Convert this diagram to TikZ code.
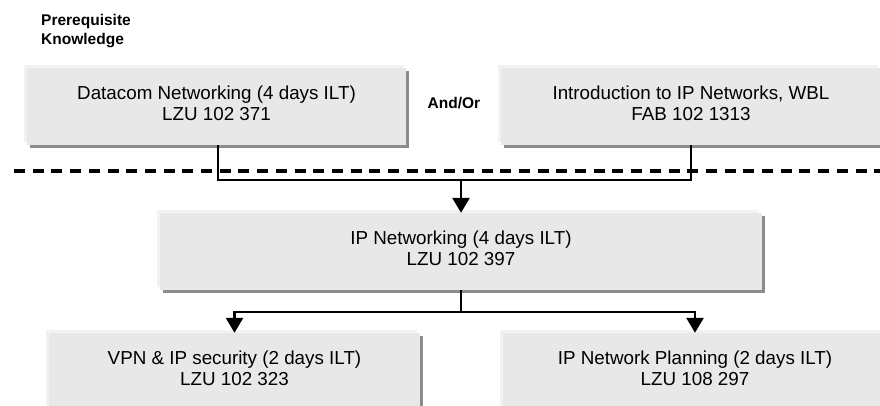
\documentclass[tikz,border=0pt]{standalone}
\usepackage{fontspec}
\setmainfont{Liberation Sans}
\usetikzlibrary{arrows.meta,shadows}
\definecolor{boxfill}{HTML}{E8E8E8}
\definecolor{boxshade}{HTML}{8C8C8C}
\definecolor{boxlight}{HTML}{F2F2F2}
\begin{document}
\begin{tikzpicture}[x=1pt,y=-1pt,
  course/.style={rectangle, fill=boxfill, inner sep=0pt, minimum height=77pt,
    align=center, text depth=6.4pt, font=\fontsize{18.8}{20.5}\selectfont,
    general shadow={shadow xshift=-3pt, shadow yshift=3pt, fill=boxlight, opacity=1},
    general shadow={shadow xshift=3pt, shadow yshift=-3pt, fill=boxshade, opacity=1}},
  conn/.style={line width=2.6pt, line join=miter},
  tip/.style={-{Triangle[length=15pt,width=17pt]}},
  tag/.style={font=\bfseries\fontsize{15.5}{19}\selectfont, inner sep=0pt, align=left}]
\useasboundingbox (0,0) rectangle (880,405);
\clip (0,0) rectangle (880,405);

% boundary between prerequisite courses and the main track
\draw[line width=3.2pt, dash pattern=on 11pt off 7.7pt] (14,171) -- (880,171);

\node[tag, anchor=north west] (prereq) at (41,14) {Prerequisite\\Knowledge};
\node[course, minimum width=379pt] (datacom) at (216.5,106.5)
  {Datacom Networking (4 days ILT)\\LZU 102 371};
\node[tag, anchor=base] (andor) at (454,108) {And/Or};
\node[course, minimum width=380pt] (intro) at (691,106.5)
  {Introduction to IP Networks, WBL\\FAB 102 1313};
\node[course, minimum width=602pt] (ipnet) at (461,251.5)
  {IP Networking (4 days ILT)\\LZU 102 397};
\node[course, minimum width=371pt] (vpn) at (234.5,371.5)
  {VPN \& IP security (2 days ILT)\\LZU 102 323};
\node[course, minimum width=384pt] (plan) at (695,371.5)
  {IP Network Planning (2 days ILT)\\LZU 108 297};

% prerequisites merge into the core course
\coordinate (merge) at (461,180);
\draw[conn] ([xshift=1.5pt]datacom.south) |- (intro.south |- merge) -- (intro.south);
\draw[conn, tip] (merge) -- (ipnet.north);

% core course splits into the follow-up courses
\coordinate (split) at (461,312);
\draw[conn] (ipnet.south) -- (split);
\draw[conn, tip] (split) -| (vpn.north);
\draw[conn, tip] (split) -| (plan.north);
\end{tikzpicture}
\end{document}
